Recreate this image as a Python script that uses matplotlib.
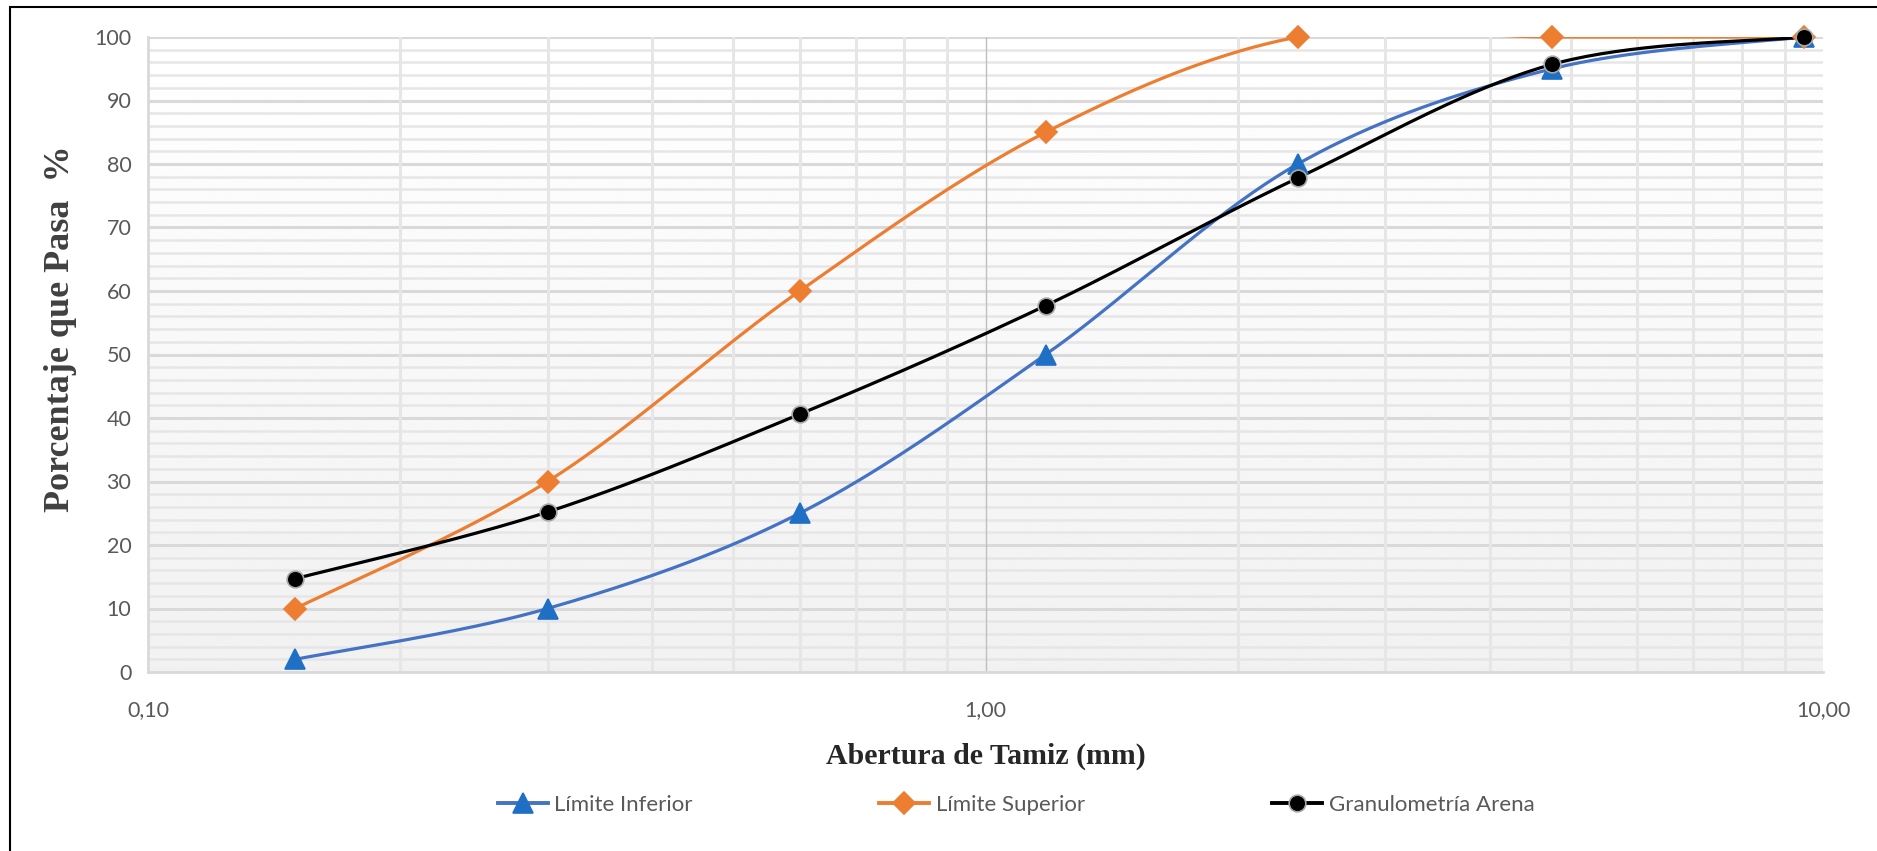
import numpy as np
import matplotlib.pyplot as plt
from matplotlib.lines import Line2D
from matplotlib.patches import Rectangle
from matplotlib.ticker import FixedLocator, FuncFormatter

# tamices (mm) y porcentajes que pasan
tamiz = [0.15, 0.30, 0.60, 1.18, 2.36, 4.75, 9.50]
lim_inf = [2, 10, 25, 50, 80, 95, 100]
lim_sup = [10, 30, 60, 85, 100, 100, 100]
arena = [14.7, 25.2, 40.6, 57.7, 77.8, 95.7, 100]
nombres = ['Límite Inferior', 'Límite Superior', 'Granulometría Arena']

W, H = 1877, 851
L, R, T, B = 148, 1823, 37, 672


def suavizar(xs, ys, n=40):
    # curva suave tipo Excel (Catmull-Rom) en espacio de pixeles
    u = (np.log10(xs) + 1) / 2 * (R - L)
    v = np.array(ys, float) / 100 * (B - T)
    P = np.column_stack([u, v])
    out = [P[0]]
    for i in range(len(P) - 1):
        p0 = P[i - 1] if i > 0 else P[i]
        p1, p2 = P[i], P[i + 1]
        p3 = P[i + 2] if i + 2 < len(P) else P[i + 1]
        c1 = p1 + (p2 - p0) / 6
        c2 = p2 - (p3 - p1) / 6
        t = np.linspace(0, 1, n)[1:, None]
        seg = ((1 - t) ** 3) * p1 + 3 * ((1 - t) ** 2) * t * c1 + 3 * (1 - t) * t ** 2 * c2 + t ** 3 * p2
        out.extend(seg)
    out = np.array(out)
    return 10 ** (out[:, 0] / (R - L) * 2 - 1), out[:, 1] / (B - T) * 100


fig = plt.figure(figsize=(W / 100, H / 100), dpi=100)
ax = fig.add_axes([L / W, 1 - B / H, (R - L) / W, (B - T) / H])
fig.patches.append(Rectangle((10 / W, -0.1), 1.2, 1 - 7 / H + 0.1, transform=fig.transFigure,
                             fill=False, edgecolor='black', lw=1.5))

# fondo degradado
grad = np.linspace(0.945, 1.0, 256).reshape(-1, 1)
ax.imshow(grad, extent=[0, 1, 0, 1], transform=ax.transAxes, aspect='auto',
          cmap='gray', vmin=0, vmax=1, zorder=0, origin='lower')

ax.set_xscale('log')
ax.set_xlim(0.1, 10)
ax.set_ylim(0, 100)

# rejilla
for yv in range(2, 100, 2):
    if yv % 10:
        ax.axhline(yv, color='#e6e6e6', lw=1.8, zorder=1)
for yv in range(10, 101, 10):
    ax.axhline(yv, color='#d9d9d9', lw=2.2, zorder=1)
for dec in [0.1, 1]:
    for k in range(2, 10):
        ax.axvline(dec * k, color='#e6e6e6', lw=2.2, zorder=1)
ax.axvline(1, color='#bfbfbf', lw=1, zorder=1.5)

ax.xaxis.set_major_locator(FixedLocator([0.1, 1, 10]))
ax.xaxis.set_minor_locator(FixedLocator([]))
ax.xaxis.set_major_formatter(FuncFormatter(lambda v, p: f"{v:.2f}".replace('.', ',')))
ax.set_yticks(range(0, 101, 10))
ax.tick_params(length=0, labelsize=15.5, labelcolor='#595959', pad=12)
for lbl in ax.get_xticklabels() + ax.get_yticklabels():
    lbl.set_family('Lato')
ax.tick_params(axis='x', pad=20)

for s in ax.spines.values():
    s.set_color('#d9d9d9')
    s.set_linewidth(2)
ax.spines['top'].set_visible(False)
ax.spines['right'].set_visible(False)

series = [
    (lim_inf, '#4472c4', '#1f6fc5', '^', 14, '#1f6fc5'),
    (lim_sup, '#ed7d31', '#ed7d31', 'D', 11, '#ed7d31'),
    (arena, 'black', 'black', 'o', 12, '#a6a6a6'),
]
handles = []
for ys, lc, mc, mk, ms, mec in series:
    sx, sy = suavizar(tamiz, ys)
    ax.plot(sx, sy, color=lc, lw=2.3, zorder=3, solid_capstyle='round')
    ax.plot(tamiz, ys, ls='none', marker=mk, ms=ms, color=mc, mec=mec, mew=1.2,
            zorder=4, clip_on=False)
    handles.append(Line2D([], [], color=lc, lw=2.8, marker=mk, ms=ms, mfc=mc, mec=mec, mew=1.2))

ax.set_xlabel('Abertura de Tamiz (mm)', family='Liberation Serif', weight='bold',
              fontsize=21.5, color='#262626')
ax.xaxis.set_label_coords(0.5, (672 - 743) / 635)
ax.set_ylabel('Porcentaje que Pasa  %', family='Liberation Serif', weight='bold',
              fontsize=26, color='#404040')
ax.yaxis.set_label_coords((77 - 148) / 1675, 0.54)

fig.legend(handles, nombres, loc='center', bbox_to_anchor=(1016 / W, 1 - 805 / H), ncol=3,
           frameon=False, prop={'family': 'Lato', 'size': 16}, labelcolor='#595959',
           handlelength=2.25, handletextpad=0.3, columnspacing=8.4)

fig.savefig('out.png', dpi=100)
